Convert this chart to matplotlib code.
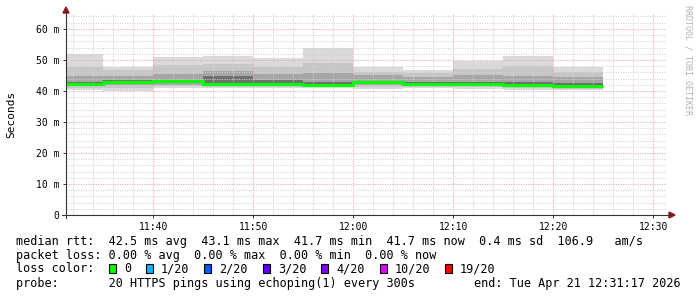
import matplotlib
matplotlib.use("Agg")
import matplotlib.pyplot as plt
import matplotlib.dates as mdates
from matplotlib.patches import Rectangle, Polygon
from matplotlib.lines import Line2D
from datetime import datetime, timedelta

plt.rcParams['lines.scale_dashes'] = False

# ---------------- data ----------------
bin_end = ["11:35", "11:40", "11:45", "11:50", "11:55", "12:00",
           "12:05", "12:10", "12:15", "12:20", "12:25"]
ping_min = [40.3, 40.0, 41.1, 41.0, 40.8, 40.9, 40.5, 40.9, 40.7, 40.3, 40.2]
ping_p10 = [41.0, 41.0, 41.5, 41.4, 41.3, 41.4, 41.2, 41.3, 41.3, 41.0, 40.7]
ping_p25 = [41.6, 41.8, 42.0, 41.8, 41.7, 41.7, 41.8, 41.7, 41.8, 41.5, 41.2]
ping_p40 = [42.0, 42.5, 42.6, 42.0, 42.0, 41.9, 42.4, 42.0, 42.1, 41.8, 41.5]
median   = [42.3, 43.0, 43.1, 42.1, 42.1, 42.0, 42.8, 42.1, 42.3, 41.9, 41.7]
ping_p60 = [42.8, 43.5, 43.6, 44.8, 43.5, 43.0, 43.3, 43.0, 43.0, 42.8, 42.4]
ping_p75 = [44.8, 44.8, 45.5, 46.5, 45.3, 45.7, 45.2, 44.4, 45.2, 44.8, 44.4]
ping_p90 = [47.8, 46.8, 48.4, 48.6, 47.8, 49.1, 46.2, 45.7, 47.0, 48.1, 46.0]
ping_max = [51.9, 47.8, 50.8, 51.1, 50.7, 54.0, 47.8, 46.8, 49.6, 51.1, 47.8]

y_ticks = [0, 10, 20, 30, 40, 50, 60]
y_tick_labels = ["0", "10 m", "20 m", "30 m", "40 m", "50 m", "60 m"]
y_label = "Seconds"

stats_line = "median rtt:  42.5 ms avg  43.1 ms max  41.7 ms min  41.7 ms now  0.4 ms sd  106.9   am/s"
loss_line = "packet loss: 0.00 % avg  0.00 % max  0.00 % min  0.00 % now"
loss_title = "loss color:"
loss_labels = ["0", "1/20", "2/20", "3/20", "4/20", "10/20", "19/20"]
loss_colors = ["#00ff00", "#00b8ff", "#0059ff", "#5e00ff", "#7e00ff", "#dd00ff", "#ff0000"]
probe_line = "probe:       20 HTTPS pings using echoping(1) every 300s"
end_line = "end: Tue Apr 21 12:31:17 2026"
watermark = "RRDTOOL / TOBI OETIKER"

day = "2026-04-21"
t_start = datetime.strptime(day + " 11:31:17", "%Y-%m-%d %H:%M:%S")
t_end = datetime.strptime(day + " 12:31:17", "%Y-%m-%d %H:%M:%S")

# ---------------- figure ----------------
W, H, DPI = 697, 297, 100
fig = plt.figure(figsize=(W / DPI, H / DPI), dpi=DPI, facecolor="white")
MONO = "DejaVu Sans Mono"

def fx(px):
    return px / W

def fy(py):
    return 1 - py / H

ax_l, ax_r, ax_b, ax_t = 66, 666, 215, 14
ax = fig.add_axes([fx(ax_l), fy(ax_b), (ax_r - ax_l) / W, (ax_b - ax_t) / H])
ax.set_facecolor("white")

ends = [datetime.strptime(day + " " + e, "%Y-%m-%d %H:%M") for e in bin_end]
edges = [ends[0] - timedelta(minutes=5)] + ends
edges_num = mdates.date2num(edges)

bands = [
    (ping_min, ping_max, "#dadada"),
    (ping_p10, ping_p90, "#c6c6c6"),
    (ping_p25, ping_p75, "#a6a6a6"),
    (ping_p40, ping_p60, "#707070"),
]
for lo, hi, col in bands:
    ax.stairs(hi, edges_num, baseline=lo, fill=True, color=col, lw=0, zorder=1)

ax.stairs(median, edges_num, baseline=None, color="#00ff00", lw=2.2, zorder=4)

ax.set_xlim(mdates.date2num(t_start), mdates.date2num(t_end))
ax.set_ylim(0, 64.8)

ax.xaxis.set_major_locator(mdates.MinuteLocator(byminute=range(0, 60, 10)))
ax.xaxis.set_minor_locator(mdates.MinuteLocator(byminute=range(0, 60, 2)))
ax.xaxis.set_major_formatter(mdates.DateFormatter("%H:%M"))
ax.set_yticks(y_ticks)
ax.set_yticklabels(y_tick_labels)
ax.set_yticks(list(range(0, 65, 2)), minor=True)

for s in ax.spines.values():
    s.set_visible(False)

ax.set_axisbelow(False)
ax.grid(which="minor", color="#d2d2d2", lw=0.75, ls=(0, (0.75, 1.0)), zorder=2)
ax.grid(which="major", color="#e6a8a8", lw=0.75, ls=(0, (0.75, 1.0)), zorder=3)

ax.tick_params(which="major", length=2, width=0.7, color="#333333",
               labelsize=7, pad=3)
ax.tick_params(which="minor", length=0)
for lab in ax.get_xticklabels() + ax.get_yticklabels():
    lab.set_fontfamily(MONO)

ax.set_ylabel(y_label, fontfamily=MONO, fontsize=8)
ax.yaxis.set_label_coords(-(ax_l - 16) / (ax_r - ax_l), 0.5)

# axis lines with arrows
fig.add_artist(Line2D([fx(ax_l), fx(ax_l)], [fy(218), fy(12)], color="#333333", lw=0.8))
fig.add_artist(Line2D([fx(62), fx(670)], [fy(ax_b), fy(ax_b)], color="#333333", lw=0.8))
fig.add_artist(Polygon([[fx(63), fy(13)], [fx(69), fy(13)], [fx(66), fy(7)]],
                       closed=True, color="#8b1a1a", transform=fig.transFigure))
fig.add_artist(Polygon([[fx(669), fy(212)], [fx(669), fy(218)], [fx(675), fy(215)]],
                       closed=True, color="#8b1a1a", transform=fig.transFigure))

# watermark
fig.text(fx(688), fy(5), watermark, rotation=270, fontfamily=MONO, fontsize=6,
         color="#b0b0b0", ha="center", va="top")

# legend text
FS = 8.45
cw = 0.602 * FS * DPI / 72
x0 = 16
fig.text(fx(x0), fy(241), stats_line, fontfamily=MONO, fontsize=FS, va="center", ha="left")
fig.text(fx(x0), fy(255), loss_line, fontfamily=MONO, fontsize=FS, va="center", ha="left")
fig.text(fx(x0), fy(269), loss_title, fontfamily=MONO, fontsize=FS, va="center", ha="left")
sx = x0 + 13 * cw
for lab, col in zip(loss_labels, loss_colors):
    fig.add_artist(Rectangle((fx(sx + 1), fy(273)), 7 / W, 9 / H, transform=fig.transFigure,
                             facecolor=col, edgecolor="black", lw=0.8))
    fig.text(fx(sx + 16), fy(269), lab, fontfamily=MONO, fontsize=FS, va="center", ha="left")
    sx = sx + 16 + len(lab) * cw + 2 * cw
fig.text(fx(x0), fy(283), probe_line, fontfamily=MONO, fontsize=FS, va="center", ha="left")
fig.text(fx(681), fy(283), end_line, fontfamily=MONO, fontsize=FS, va="center", ha="right")

fig.savefig("out.png", dpi=DPI, facecolor="white")
